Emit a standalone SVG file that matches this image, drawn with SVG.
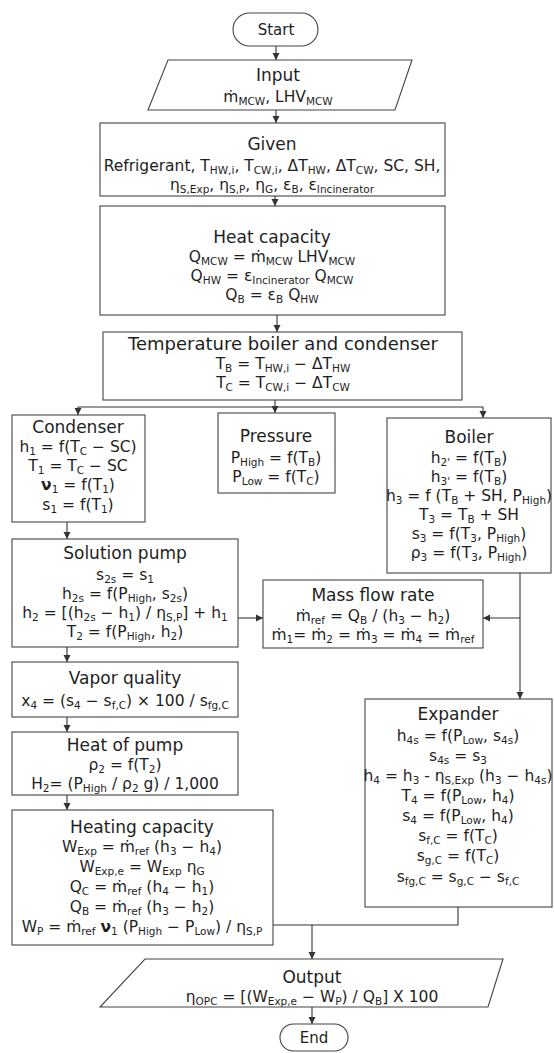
<svg xmlns="http://www.w3.org/2000/svg" width="554" height="1053" viewBox="0 0 554 1053">
<defs>
<marker id="ah" markerWidth="8" markerHeight="8" refX="7" refY="4" orient="auto" markerUnits="userSpaceOnUse"><path d="M0,0.5 L7,4 L0,7.5 Z" fill="#333"/></marker>
</defs>
<style>
.box{fill:#fff;stroke:#444;stroke-width:1.1}
.ln{fill:none;stroke:#333;stroke-width:1.1}
text{font-family:"DejaVu Sans","Open Sans",sans-serif;fill:#1e1e1e;text-anchor:middle}
.t{font-size:17px}
.b{font-size:15.5px}
.p{font-size:15px}
.s{font-size:10.5px;baseline-shift:-3px}
.v{font-weight:bold}
</style>
<rect width="554" height="1053" fill="#fff"/>

<g id="connectors">
<line class="ln" x1="276" y1="46" x2="276" y2="60" marker-end="url(#ah)"/>
<line class="ln" x1="276" y1="110" x2="276" y2="123" marker-end="url(#ah)"/>
<line class="ln" x1="275" y1="196" x2="275" y2="206" marker-end="url(#ah)"/>
<line class="ln" x1="277" y1="315" x2="277" y2="332" marker-end="url(#ah)"/>
<polyline class="ln" points="275,400 275,407"/>
<line class="ln" x1="78" y1="407" x2="483" y2="407"/>
<line class="ln" x1="78" y1="407" x2="78" y2="415" marker-end="url(#ah)"/>
<line class="ln" x1="275" y1="407" x2="275" y2="413" marker-end="url(#ah)"/>
<line class="ln" x1="483" y1="407" x2="483" y2="418" marker-end="url(#ah)"/>
<line class="ln" x1="67" y1="522" x2="67" y2="539" marker-end="url(#ah)"/>
<line class="ln" x1="238" y1="618" x2="263" y2="618" marker-end="url(#ah)"/>
<line class="ln" x1="520" y1="573" x2="520" y2="699" marker-end="url(#ah)"/>
<line class="ln" x1="520" y1="618" x2="483" y2="618" marker-end="url(#ah)"/>
<line class="ln" x1="67" y1="647" x2="67" y2="662" marker-end="url(#ah)"/>
<line class="ln" x1="67" y1="717" x2="67" y2="732" marker-end="url(#ah)"/>
<line class="ln" x1="67" y1="795" x2="67" y2="810" marker-end="url(#ah)"/>
<polyline class="ln" points="458,907 458,925 273,925"/>
<line class="ln" x1="312" y1="925" x2="312" y2="959" marker-end="url(#ah)"/>
<line class="ln" x1="312" y1="1007" x2="312" y2="1024" marker-end="url(#ah)"/>
</g>

<g id="start">
<rect class="box" x="233" y="13" width="85" height="33" rx="16.5"/>
<text class="p" x="276" y="35">Start</text>
</g>

<g id="input">
<polygon class="box" points="168,60 412,60 395,110 148,110"/>
<text class="t" x="278" y="81">Input</text>
<text class="b" x="278" y="102">ṁ<tspan class="s">MCW</tspan>, LHV<tspan class="s">MCW</tspan></text>
</g>

<g id="given">
<rect class="box" x="100" y="123" width="345" height="73"/>
<text class="t" x="272" y="150">Given</text>
<text class="b" x="272" y="171">Refrigerant, T<tspan class="s">HW,i</tspan>, T<tspan class="s">CW,i</tspan>, ΔT<tspan class="s">HW</tspan>, ΔT<tspan class="s">CW</tspan>, SC, SH,</text>
<text class="b" x="272" y="190">η<tspan class="s">S,Exp</tspan>, η<tspan class="s">S,P</tspan>, η<tspan class="s">G</tspan>, ε<tspan class="s">B</tspan>, ε<tspan class="s">Incinerator</tspan></text>
</g>

<g id="heat-capacity">
<rect class="box" x="100" y="206" width="345" height="109"/>
<text class="t" x="272" y="243">Heat capacity</text>
<text class="b" x="272" y="262">Q<tspan class="s">MCW</tspan> = ṁ<tspan class="s">MCW</tspan> LHV<tspan class="s">MCW</tspan></text>
<text class="b" x="272" y="281">Q<tspan class="s">HW</tspan> = ε<tspan class="s">Incinerator</tspan> Q<tspan class="s">MCW</tspan></text>
<text class="b" x="272" y="300">Q<tspan class="s">B</tspan> = ε<tspan class="s">B</tspan> Q<tspan class="s">HW</tspan></text>
</g>

<g id="temperature">
<rect class="box" x="103" y="332" width="359" height="68"/>
<text class="t" x="283" y="350" style="font-size:18px">Temperature boiler and condenser</text>
<text class="b" x="283" y="369">T<tspan class="s">B</tspan> = T<tspan class="s">HW,i</tspan> − ΔT<tspan class="s">HW</tspan></text>
<text class="b" x="283" y="388">T<tspan class="s">C</tspan> = T<tspan class="s">CW,i</tspan> − ΔT<tspan class="s">CW</tspan></text>
</g>

<g id="condenser">
<rect class="box" x="12" y="415" width="133" height="107"/>
<text class="t" x="78" y="433">Condenser</text>
<text class="b" x="78" y="452">h<tspan class="s">1</tspan> = f(T<tspan class="s">C</tspan> − SC)</text>
<text class="b" x="78" y="471">T<tspan class="s">1</tspan> = T<tspan class="s">C</tspan> − SC</text>
<text class="b" x="78" y="490"><tspan class="v">ν</tspan><tspan class="s">1</tspan> = f(T<tspan class="s">1</tspan>)</text>
<text class="b" x="78" y="510">s<tspan class="s">1</tspan> = f(T<tspan class="s">1</tspan>)</text>
</g>

<g id="pressure">
<rect class="box" x="218" y="413" width="117" height="80"/>
<text class="t" x="276" y="442">Pressure</text>
<text class="b" x="276" y="463">P<tspan class="s">High</tspan> = f(T<tspan class="s">B</tspan>)</text>
<text class="b" x="276" y="482">P<tspan class="s">Low</tspan> = f(T<tspan class="s">C</tspan>)</text>
</g>

<g id="boiler">
<rect class="box" x="387" y="418" width="164" height="155"/>
<text class="t" x="469" y="443">Boiler</text>
<text class="b" x="469" y="463">h<tspan class="s">2'</tspan> = f(T<tspan class="s">B</tspan>)</text>
<text class="b" x="469" y="482">h<tspan class="s">3'</tspan> = f(T<tspan class="s">B</tspan>)</text>
<text class="b" x="469" y="501">h<tspan class="s">3</tspan> = f (T<tspan class="s">B</tspan> + SH, P<tspan class="s">High</tspan>)</text>
<text class="b" x="469" y="520">T<tspan class="s">3</tspan> = T<tspan class="s">B</tspan> + SH</text>
<text class="b" x="469" y="539">s<tspan class="s">3</tspan> = f(T<tspan class="s">3</tspan>, P<tspan class="s">High</tspan>)</text>
<text class="b" x="469" y="558">ρ<tspan class="s">3</tspan> = f(T<tspan class="s">3</tspan>, P<tspan class="s">High</tspan>)</text>
</g>

<g id="solution-pump">
<rect class="box" x="12" y="539" width="226" height="108"/>
<text class="t" x="125" y="559">Solution pump</text>
<text class="b" x="125" y="580">s<tspan class="s">2s</tspan> = s<tspan class="s">1</tspan></text>
<text class="b" x="125" y="599">h<tspan class="s">2s</tspan> = f(P<tspan class="s">High</tspan>, s<tspan class="s">2s</tspan>)</text>
<text class="b" x="125" y="618">h<tspan class="s">2</tspan> = [(h<tspan class="s">2s</tspan> − h<tspan class="s">1</tspan>) / η<tspan class="s">S,P</tspan>] + h<tspan class="s">1</tspan></text>
<text class="b" x="125" y="637">T<tspan class="s">2</tspan> = f(P<tspan class="s">High</tspan>, h<tspan class="s">2</tspan>)</text>
</g>

<g id="mass-flow-rate">
<rect class="box" x="263" y="580" width="220" height="68"/>
<text class="t" x="373" y="601">Mass flow rate</text>
<text class="b" x="373" y="621">ṁ<tspan class="s">ref</tspan> = Q<tspan class="s">B</tspan> / (h<tspan class="s">3</tspan> − h<tspan class="s">2</tspan>)</text>
<text class="b" x="373" y="640">ṁ<tspan class="s">1</tspan>= ṁ<tspan class="s">2</tspan> = ṁ<tspan class="s">3</tspan> = ṁ<tspan class="s">4</tspan> = ṁ<tspan class="s">ref</tspan></text>
</g>

<g id="vapor-quality">
<rect class="box" x="12" y="662" width="226" height="55"/>
<text class="t" x="125" y="684">Vapor quality</text>
<text class="b" x="125" y="706">x<tspan class="s">4</tspan> = (s<tspan class="s">4</tspan> − s<tspan class="s">f,C</tspan>) × 100 / s<tspan class="s">fg,C</tspan></text>
</g>

<g id="heat-of-pump">
<rect class="box" x="12" y="732" width="226" height="63"/>
<text class="t" x="125" y="751">Heat of pump</text>
<text class="b" x="125" y="770">ρ<tspan class="s">2</tspan> = f(T<tspan class="s">2</tspan>)</text>
<text class="b" x="125" y="789">H<tspan class="s">2</tspan>= (P<tspan class="s">High</tspan> / ρ<tspan class="s">2</tspan> g) / 1,000</text>
</g>

<g id="expander">
<rect class="box" x="365" y="699" width="187" height="208"/>
<text class="t" x="458" y="720">Expander</text>
<text class="b" x="458" y="741">h<tspan class="s">4s</tspan> = f(P<tspan class="s">Low</tspan>, s<tspan class="s">4s</tspan>)</text>
<text class="b" x="458" y="761">s<tspan class="s">4s</tspan> = s<tspan class="s">3</tspan></text>
<text class="b" x="458" y="781">h<tspan class="s">4</tspan> = h<tspan class="s">3</tspan> - η<tspan class="s">S,Exp</tspan> (h<tspan class="s">3</tspan> − h<tspan class="s">4s</tspan>)</text>
<text class="b" x="458" y="801">T<tspan class="s">4</tspan> = f(P<tspan class="s">Low</tspan>, h<tspan class="s">4</tspan>)</text>
<text class="b" x="458" y="821">s<tspan class="s">4</tspan> = f(P<tspan class="s">Low</tspan>, h<tspan class="s">4</tspan>)</text>
<text class="b" x="458" y="841">s<tspan class="s">f,C</tspan> = f(T<tspan class="s">C</tspan>)</text>
<text class="b" x="458" y="861">s<tspan class="s">g,C</tspan> = f(T<tspan class="s">C</tspan>)</text>
<text class="b" x="458" y="882">s<tspan class="s">fg,C</tspan> = s<tspan class="s">g,C</tspan> − s<tspan class="s">f,C</tspan></text>
</g>

<g id="heating-capacity">
<rect class="box" x="12" y="810" width="261" height="135"/>
<text class="t" x="142" y="833">Heating capacity</text>
<text class="b" x="142" y="852">W<tspan class="s">Exp</tspan> = ṁ<tspan class="s">ref</tspan> (h<tspan class="s">3</tspan> − h<tspan class="s">4</tspan>)</text>
<text class="b" x="142" y="872">W<tspan class="s">Exp,e</tspan> = W<tspan class="s">Exp</tspan> η<tspan class="s">G</tspan></text>
<text class="b" x="142" y="892">Q<tspan class="s">C</tspan> = ṁ<tspan class="s">ref</tspan> (h<tspan class="s">4</tspan> − h<tspan class="s">1</tspan>)</text>
<text class="b" x="142" y="912">Q<tspan class="s">B</tspan> = ṁ<tspan class="s">ref</tspan> (h<tspan class="s">3</tspan> − h<tspan class="s">2</tspan>)</text>
<text class="b" x="142" y="932">W<tspan class="s">P</tspan> = ṁ<tspan class="s">ref</tspan> <tspan class="v">ν</tspan><tspan class="s">1</tspan> (P<tspan class="s">High</tspan> − P<tspan class="s">Low</tspan>) / η<tspan class="s">S,P</tspan></text>
</g>

<g id="output">
<polygon class="box" points="145,959 503,959 488,1007 100,1007"/>
<text class="t" x="312" y="983">Output</text>
<text class="b" x="312" y="1002">η<tspan class="s">OPC</tspan> = [(W<tspan class="s">Exp,e</tspan> − W<tspan class="s">P</tspan>) / Q<tspan class="s">B</tspan>]  X 100</text>
</g>

<g id="end">
<rect class="box" x="280" y="1024" width="68" height="27" rx="13.5"/>
<text class="p" x="314" y="1043">End</text>
</g>
</svg>
